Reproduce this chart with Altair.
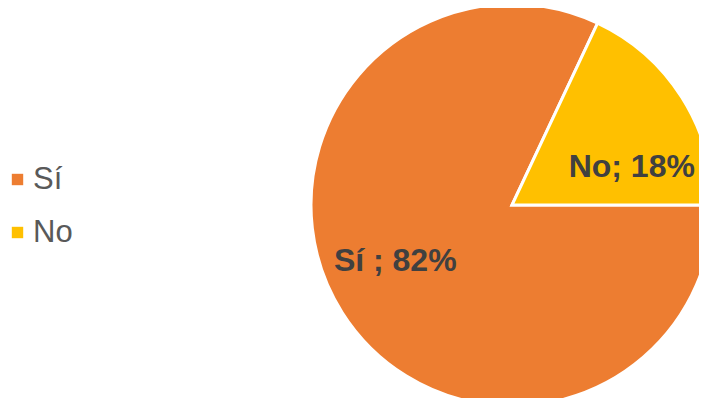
import math
import altair as alt
import pandas as pd

categories = ["Sí", "No"]
values = [82, 18]
labels = ["Sí ; 82%", "No; 18%"]
colors = ["#ED7D31", "#FFC000"]

df = pd.DataFrame({"cat": categories, "val": values, "label": labels, "idx": list(range(len(categories)))})

cx, cy = 504, 197

theta = alt.Theta("val:Q", stack=True, scale=alt.Scale(range=[math.pi / 2, math.pi / 2 + 2 * math.pi]))
order = alt.Order("idx:Q")

pie = alt.Chart(df).mark_arc(radius=201, stroke="white", strokeWidth=3).encode(
    theta=theta,
    order=order,
    x=alt.value(cx),
    y=alt.value(cy),
    color=alt.Color(
        "cat:N",
        scale=alt.Scale(domain=categories, range=colors),
        sort=categories,
        legend=alt.Legend(
            title=None,
            orient="none",
            legendX=-6,
            legendY=156,
            padding=0,
            symbolType="square",
            symbolSize=130,
            symbolStrokeWidth=0,
            labelFontSize=31,
            labelColor="#595959",
            labelFont="Liberation Sans",
            rowPadding=21,
            labelOffset=0,
        ),
    ),
)

def text_layer(cat, dx, dy):
    return alt.Chart(df).mark_text(
        radius=130, fontSize=32, fontWeight="bold", font="Liberation Sans", color="#404040", dx=dx, dy=dy
    ).encode(
        theta=theta,
        order=order,
        x=alt.value(cx),
        y=alt.value(cy),
        text=alt.condition(alt.datum.cat == cat, "label:N", alt.value("")),
    )

chart = alt.layer(pie, text_layer("Sí", -7, -14), text_layer("No", 10, 32)).properties(
    width=691, height=390, autosize=alt.AutoSizeParams(type="none"), padding=0
).configure_view(stroke=None)

chart.save("out.html", embed_options={"renderer": "svg", "actions": False})
